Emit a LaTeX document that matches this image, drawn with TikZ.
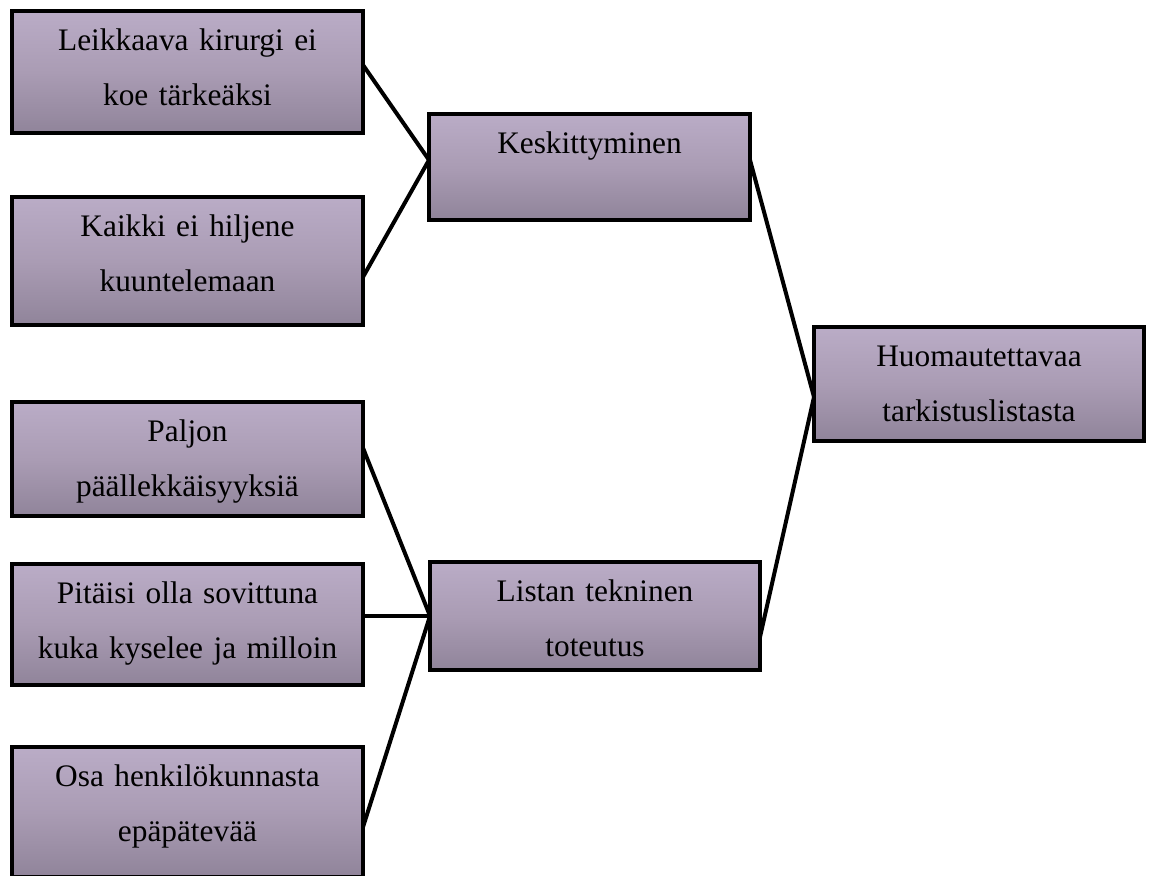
\documentclass[tikz,border=0pt]{standalone}
\usepackage{fontspec}
\setmainfont{Liberation Serif}
\definecolor{gtop}{RGB}{202,188,217}
\definecolor{gmid}{RGB}{170,156,180}
\definecolor{gbot}{RGB}{118,108,128}
\pgfdeclareverticalshading{boxshade}{100bp}{color(0bp)=(gbot); color(50bp)=(gmid); color(100bp)=(gtop)}
\begin{document}
\begin{tikzpicture}[x=0.75pt,y=-0.75pt,
  box/.style={draw=black, line width=3.2pt, shade, shading=boxshade, inner sep=0pt, outer sep=0pt, anchor=north west},
  txt/.style={anchor=base, inner sep=0pt, text width=#1, align=center, font=\fontsize{23.5}{41.25}\selectfont},
  link/.style={draw=black, line width=3pt}]
\useasboundingbox (0,0) rectangle (1152,875);
\clip (0,0) rectangle (1152,875);
% boxes
\node[box, minimum width=263.25pt, minimum height=91.5pt] (b1) at (12,11) {};
\node[box, minimum width=263.25pt, minimum height=96pt] (b2) at (12,197) {};
\node[box, minimum width=263.25pt, minimum height=85.5pt] (b3) at (12,402) {};
\node[box, minimum width=263.25pt, minimum height=90.75pt] (b4) at (12,564) {};
\node[box, minimum width=263.25pt, minimum height=97.5pt] (b5) at (12,747) {};
\node[box, minimum width=240.75pt, minimum height=79.5pt] (kesk) at (429,114) {};
\node[box, minimum width=247.5pt, minimum height=81pt] (listan) at (430,562) {};
\node[box, minimum width=247.5pt, minimum height=85.5pt] (huom) at (814,327) {};
% texts
\node[txt=263pt] (t1) at ([yshift=-29.25pt]b1.north) {Leikkaava kirurgi ei\\koe tärkeäksi};
\node[txt=263pt] (t2) at ([yshift=-29.25pt]b2.north) {Kaikki ei hiljene\\kuuntelemaan};
\node[txt=263pt] (t3) at ([yshift=-29.25pt]b3.north) {Paljon\\päällekkäisyyksiä};
\node[txt=263pt] (t4) at ([yshift=-29.25pt]b4.north) {Pitäisi olla sovittuna\\kuka kyselee ja milloin};
\node[txt=263pt] (t5) at ([yshift=-29.25pt]b5.north) {Osa henkilökunnasta\\epäpätevää};
\node[txt=240pt] (t6) at ([yshift=-29.25pt]kesk.north) {Keskittyminen};
\node[txt=247pt] (t7) at ([yshift=-29.25pt]listan.north) {Listan tekninen\\toteutus};
\node[txt=247pt] (t8) at ([yshift=-29.25pt]huom.north) {Huomautettavaa\\tarkistuslistasta};
% connectors
\draw[link] ([yshift=5.25pt]b1.east) -- ([yshift=5.25pt]kesk.west);
\draw[link] ([yshift=-12pt]b2.east) -- ([yshift=5.25pt]kesk.west);
\draw[link] ([yshift=8.25pt]b3.east) -- (listan.west);
\draw[link] ([yshift=6.375pt]b4.east) -- (listan.west);
\draw[link] ([yshift=-11.25pt]b5.east) -- (listan.west);
\draw[link] ([yshift=5.25pt]kesk.east) -- ([yshift=-9.75pt]huom.west);
\draw[link] ([yshift=-15.75pt]listan.east) -- ([yshift=-9.75pt]huom.west);
\end{tikzpicture}
\end{document}
